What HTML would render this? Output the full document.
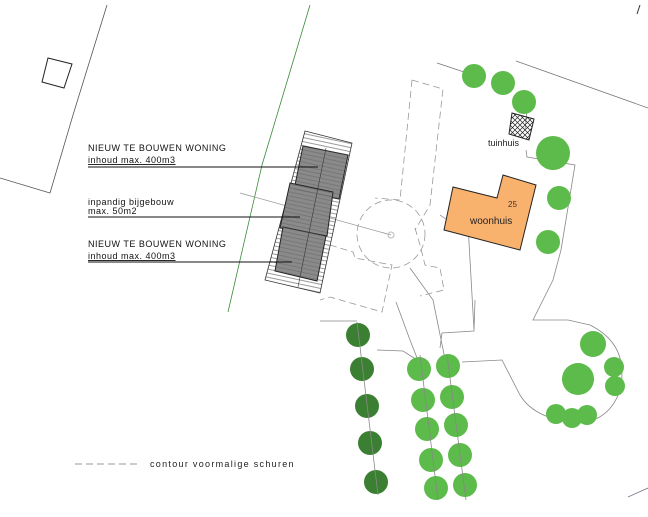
<!DOCTYPE html>
<html><head><meta charset="utf-8"><style>
html,body{margin:0;padding:0;background:#fff;}
svg{display:block;font-family:"Liberation Sans",sans-serif;}
</style></head><body>
<svg width="648" height="517" viewBox="0 0 648 517" xmlns="http://www.w3.org/2000/svg">
<defs>
<pattern id="hatch" width="5" height="5" patternUnits="userSpaceOnUse">
<path d="M0 0L5 5M5 0L0 5" stroke="#222" stroke-width="0.7"/>
</pattern>
<pattern id="stripes" width="8" height="4" patternUnits="userSpaceOnUse" patternTransform="rotate(12)">
<path d="M0 3.5H8" stroke="#555" stroke-width="0.6"/>
</pattern>
</defs>
<polyline points="107,5 73,115 50,193 0,178" fill="none" stroke="#555" stroke-width="0.8"/>
<polygon points="48,58 72,64 64,88 42,82" fill="none" stroke="#222" stroke-width="1"/>
<polyline points="310,5 262,165 228,312" fill="none" stroke="#3a8a3a" stroke-width="0.8"/>
<polyline points="437,63 470,74" fill="none" stroke="#777" stroke-width="0.8"/>
<polyline points="516,61 648,108" fill="none" stroke="#777" stroke-width="0.8"/>
<polyline points="637,14 640,5" fill="none" stroke="#333" stroke-width="1"/>
<polyline points="628,497 648,488" fill="none" stroke="#778" stroke-width="0.8"/>
<path d="M527,110 L525,130 M526,150 L527,157 L575,165 L561,250 L553,280 L533,320 L568,320 L590,325 Q630,345 620,390 Q610,420 580,423 Q535,420 520,395 L502,360 L462,362" fill="none" stroke="#888" stroke-width="0.8"/>
<path d="M320,321 L357,321 M377,350 L403,351 L414,358 M440,348 L442,333 L474,331 L475,300 M396,302 L410,340 L421,368 M410,268 L433,300 L446,364 M468,225 L474,330" fill="none" stroke="#888" stroke-width="0.8"/>
<g fill="none" stroke="#999" stroke-width="0.8" stroke-dasharray="7,4">
<polyline points="412,80 443,89 430,205 415,230"/>
<polyline points="412,80 400,200 375,198"/>
<circle cx="391" cy="234" r="34"/>
<polyline points="330,245 353,252 355,258 392,265 382,312 330,297 320,300"/>
<polyline points="415,228 420,245 425,265 440,268 444,290 420,296"/>
<polyline points="440,215 465,232"/>
</g>
<path d="M240,193 L391,235" stroke="#999" stroke-width="0.8" fill="none"/>
<circle cx="391" cy="235" r="3" fill="none" stroke="#bbb"/>
<polygon points="305,131 352,143 320,293 265,280" fill="url(#stripes)" stroke="#333" stroke-width="0.8"/>
<polygon points="303,146 348,155 339,199 294,190" fill="#8a8a8a" stroke="#222" stroke-width="1"/>
<polygon points="290,183 333,192 327,236 280,228" fill="#8a8a8a" stroke="#222" stroke-width="1"/>
<polygon points="283,227 326,236 317,281 275,271" fill="#8a8a8a" stroke="#222" stroke-width="1"/>
<g stroke="#333" stroke-width="0.6"><line x1="326" y1="148" x2="298" y2="287"/></g>
<polygon points="303,146 348,155 339,199 294,190" fill="url(#stripes)" opacity="0.6"/>
<polygon points="290,183 333,192 327,236 280,228" fill="url(#stripes)" opacity="0.6"/>
<polygon points="283,227 326,236 317,281 275,271" fill="url(#stripes)" opacity="0.6"/>
<g font-size="9" fill="#111" letter-spacing="0.5">
<text x="88" y="151">NIEUW TE BOUWEN WONING</text>
<text x="88" y="163" text-decoration="underline">inhoud max. 400m3</text>
<text x="88" y="205">inpandig bijgebouw</text>
<text x="88" y="214">max. 50m2</text>
<text x="88" y="247">NIEUW TE BOUWEN WONING</text>
<text x="88" y="259" text-decoration="underline">inhoud max. 400m3</text>
</g>
<g stroke="#111" stroke-width="1">
<line x1="88" y1="167" x2="318" y2="167"/>
<line x1="88" y1="217" x2="300" y2="217"/>
<line x1="88" y1="262" x2="292" y2="262"/>
</g>
<polygon points="453,187 497,198 503,175 536,185 520,250 444,230" fill="#f9b26e" stroke="#222" stroke-width="1"/>
<text x="508" y="207" font-size="8" fill="#333">25</text>
<text x="470" y="224" font-size="10" fill="#222">woonhuis</text>
<polygon points="512,113 534,119 529,140 509,134" fill="url(#hatch)" stroke="#222" stroke-width="1"/>
<text x="488" y="146" font-size="9" fill="#222">tuinhuis</text>
<g fill="#5cbb4a">
<circle cx="474" cy="76" r="12"/><circle cx="503" cy="83" r="12"/><circle cx="524" cy="102" r="12"/>
<circle cx="553" cy="153" r="17"/><circle cx="559" cy="198" r="12"/><circle cx="548" cy="242" r="12"/>
<circle cx="593" cy="344" r="13"/><circle cx="578" cy="379" r="16"/><circle cx="614" cy="367" r="10"/><circle cx="615" cy="386" r="10"/>
<circle cx="556" cy="414" r="10"/><circle cx="572" cy="418" r="10"/><circle cx="587" cy="415" r="10"/>
<circle cx="419" cy="369" r="12"/><circle cx="423" cy="400" r="12"/><circle cx="427" cy="429" r="12"/><circle cx="431" cy="460" r="12"/><circle cx="436" cy="488" r="12"/>
<circle cx="448" cy="366" r="12"/><circle cx="452" cy="397" r="12"/><circle cx="456" cy="425" r="12"/><circle cx="460" cy="455" r="12"/><circle cx="465" cy="485" r="12"/>
</g>
<g fill="#3b8032">
<circle cx="358" cy="335" r="12"/><circle cx="362" cy="369" r="12"/><circle cx="367" cy="406" r="12"/><circle cx="370" cy="443" r="12"/><circle cx="376" cy="482" r="12"/>
</g>
<path d="M357,322 L378,495 M420,355 L438,500 M447,355 L466,500" stroke="#888" stroke-width="0.8" fill="none"/>
<line x1="75" y1="464" x2="140" y2="464" stroke="#777" stroke-width="0.8" stroke-dasharray="7,4"/>
<text x="150" y="467" font-size="9" fill="#222" letter-spacing="1.3">contour voormalige schuren</text>
</svg>
</body></html>
